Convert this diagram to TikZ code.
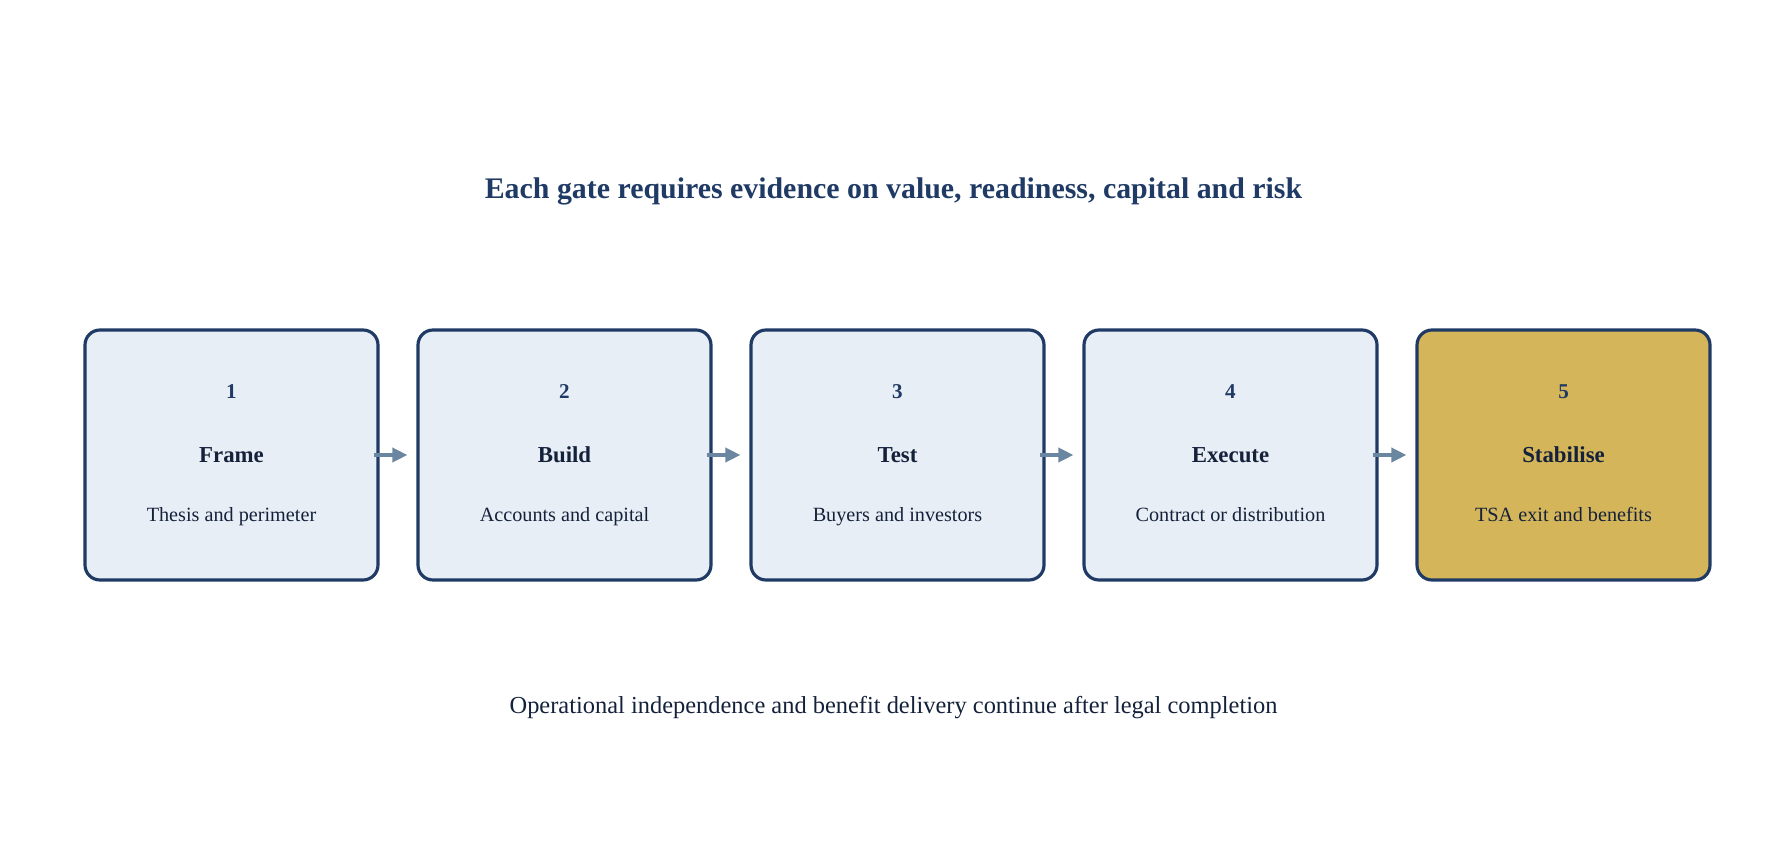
\documentclass[tikz,border=0pt]{standalone}
\usepackage{fontspec}
\setmainfont{Liberation Serif}
\usetikzlibrary{arrows.meta}
\definecolor{navy}{HTML}{1F3A64}
\definecolor{ink}{HTML}{14213A}
\definecolor{pale}{HTML}{E8EEF6}
\definecolor{gold}{HTML}{D4B55A}
\definecolor{steel}{HTML}{6A86A0}
\begin{document}
\begin{tikzpicture}
	\tikzstyle{gate}=[rectangle, rounded corners=0.3cm, draw=navy, line width=1.8pt, fill=pale, minimum width=5.86cm, minimum height=5cm]
	\tikzstyle{flow}=[-{Triangle[length=0.3cm,width=0.28cm]}, draw=steel, line width=2pt, shorten <=-0.12cm, shorten >=0.18cm]
	\tikzstyle{num}=[font=\fontsize{12}{14}\selectfont\bfseries, text=navy]
	\tikzstyle{stage}=[font=\fontsize{13}{15}\selectfont\bfseries, text=ink]
	\tikzstyle{desc}=[font=\fontsize{11.5}{13}\selectfont, text=ink, text height=1.6ex, text depth=0.4ex]
	\useasboundingbox (0, 0) rectangle (35.74, 17.02);
	\draw node at (17.87, 13.20) (title) {\fontsize{17}{20}\selectfont\bfseries\color{navy}Each gate requires evidence on value, readiness, capital and risk};
	\draw node[gate] at (4.63, 7.92) (g1) {};
	\draw node[gate] at (11.29, 7.92) (g2) {};
	\draw node[gate] at (17.95, 7.92) (g3) {};
	\draw node[gate] at (24.61, 7.92) (g4) {};
	\draw node[gate, fill=gold] at (31.27, 7.92) (g5) {};
	\foreach \g/\n/\a/\b in {g1/1/Frame/Thesis and perimeter, g2/2/Build/Accounts and capital, g3/3/Test/Buyers and investors, g4/4/Execute/Contract or distribution, g5/5/Stabilise/TSA exit and benefits}{
		\draw node[num] at ([yshift=1.26cm]\g.center) {\n};
		\draw node[stage] at (\g.center) {\a};
		\draw node[desc] at ([yshift=-1.24cm]\g.center) {\b};
	}
	\draw [flow] (g1) -- (g2);
	\draw [flow] (g2) -- (g3);
	\draw [flow] (g3) -- (g4);
	\draw [flow] (g4) -- (g5);
	\draw node at (17.87, 2.86) (note) {\fontsize{13.9}{16}\selectfont\color{ink}Operational independence and benefit delivery continue after legal completion};
\end{tikzpicture}
\end{document}
